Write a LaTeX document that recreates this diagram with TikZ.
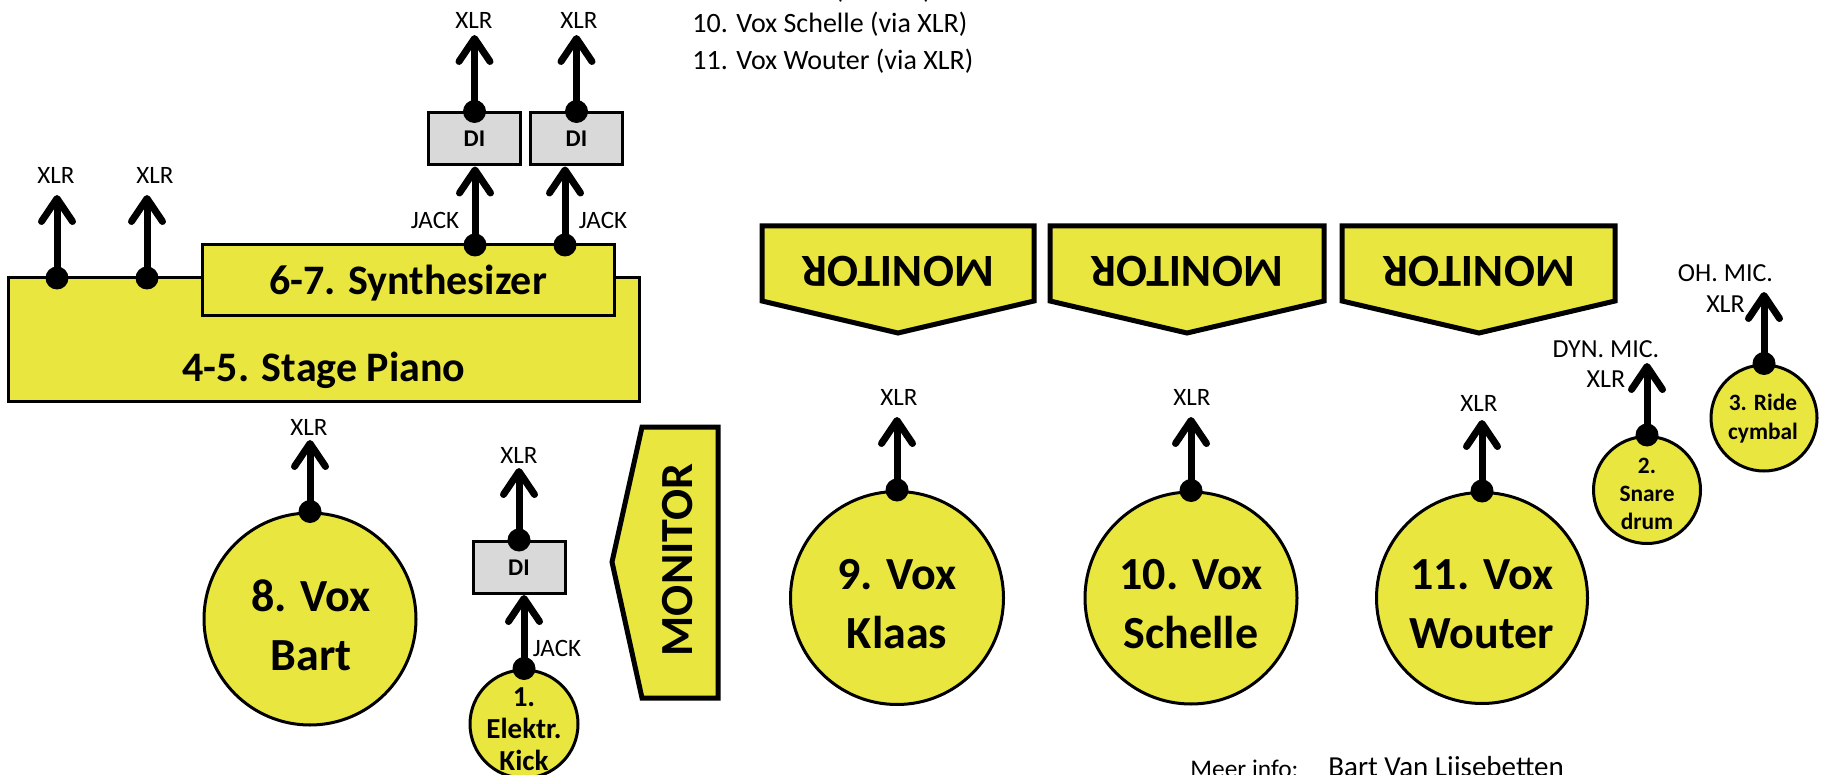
\documentclass[tikz,border=0pt]{standalone}
\usepackage{fontspec}
\setmainfont{Carlito}
\usetikzlibrary{arrows.meta,calc}
\definecolor{yel}{RGB}{234,230,64}
\definecolor{digray}{RGB}{217,217,217}
\newcommand{\myfs}[2]{\fontsize{#1}{#2}\selectfont}
\begin{document}
\begin{tikzpicture}[x=0.5pt,y=-0.5pt,
  box/.style={draw=black,line width=1.5pt,fill=yel,inner sep=0pt},
  dibox/.style={draw=black,line width=1.5pt,fill=digray,inner sep=0pt,minimum width=46pt,minimum height=26pt,font=\myfs{12pt}{14pt}\bfseries},
  inst/.style={circle,draw=black,line width=1.5pt,fill=yel,inner sep=0pt},
  bigtxt/.style={font=\myfs{23pt}{29.5pt}\bfseries,align=center,inner sep=0pt},
  midtxt/.style={font=\myfs{14.5pt}{16pt}\bfseries,align=center,inner sep=0pt},
  smalltxt/.style={font=\myfs{11.7pt}{14pt}\bfseries,align=center,inner sep=0pt},
  mon/.style={draw=black,line width=2.5pt,fill=yel,line join=miter},
  montext/.style={font=\myfs{23pt}{27pt}\bfseries,inner sep=0pt},
  sig/.style={line width=3.5pt,-{Straight Barb[length=11.5pt,width=15.5pt,round]}},
  plug/.style={fill=black},
  lbl/.style={font=\myfs{12.5pt}{15.25pt},inner sep=0pt,align=center},
  legend/.style={font=\myfs{14pt}{18.5pt},inner sep=0pt,anchor=base west},
]
\useasboundingbox (0,0) rectangle (1825,775);

% ---------- keyboards ----------
\node[box,minimum width=315.5pt,minimum height=61.5pt] (piano) at (323.5,339.5) {};
\node[font=\myfs{21pt}{25pt}\bfseries,inner sep=0pt] (pianotxt) at (324,370) {4-5. Stage Piano};
\node[box,minimum width=206pt,minimum height=35pt] (synth) at (408,280) {};
\node[font=\myfs{21pt}{25pt}\bfseries,inner sep=0pt] (synthtxt) at (408,283) {6-7. Synthesizer};

\coordinate (pd1) at (57,278);
\coordinate (pd2) at (147,278);
\coordinate (pt1) at (57,195);
\coordinate (pt2) at (147,195);
\node[lbl] (px1) at (56,175) {XLR};
\node[lbl] (px2) at (155,175) {XLR};

\coordinate (sd1) at (475,245);
\coordinate (sd2) at (565,245);
\node[dibox] (di1) at (474.5,139) {DI};
\node[dibox] (di2) at (576.5,139) {DI};
\coordinate (dt1) at (474.5,35);
\coordinate (dt2) at (576.5,35);
\node[lbl] (dx1) at (474,20) {XLR};
\node[lbl] (dx2) at (579,20) {XLR};
\node[lbl] (jack1) at (435,220) {JACK};
\node[lbl] (jack2) at (603,220) {JACK};

% ---------- monitors ----------
\draw[mon] (762,226) -- (1034,226) -- (1034,301) -- (898,333) -- (762,301) -- cycle;
\node[montext,rotate=180] (mon1) at (898,271) {MONITOR};
\draw[mon] (1050,226) -- (1324,226) -- (1324,301) -- (1187,333) -- (1050,301) -- cycle;
\node[montext,rotate=180] (mon2) at (1187,271) {MONITOR};
\draw[mon] (1342,226) -- (1615,226) -- (1615,301) -- (1479,333) -- (1342,301) -- cycle;
\node[montext,rotate=180] (mon3) at (1479,271) {MONITOR};
\draw[mon] (642,427) -- (718,427) -- (718,698) -- (642,698) -- (612,562) -- cycle;
\node[montext,rotate=90] (mon4) at (678,560) {MONITOR};

% ---------- instruments ----------
\node[inst,minimum size=106pt] (v8) at (310,619) {};
\node[bigtxt] (v8txt) at (311,625) {8. Vox\\Bart};
\node[inst,minimum size=106.5pt] (v9) at (897,598) {};
\node[bigtxt] (v9txt) at (897,604) {9. Vox\\Klaas};
\node[inst,minimum size=106pt] (v10) at (1191,598) {};
\node[bigtxt] (v10txt) at (1191,604) {10. Vox\\Schelle};
\node[inst,minimum size=105.5pt] (v11) at (1482,598) {};
\node[bigtxt] (v11txt) at (1482,604) {11. Vox\\Wouter};
\node[inst,minimum size=54pt] (kick) at (524,724) {};
\node[midtxt] (kicktxt) at (524,729) {1.\\Elektr.\\Kick};
\node[inst,minimum size=53.5pt] (snare) at (1647,490) {};
\node[smalltxt] (snaretxt) at (1647,494) {2.\\Snare\\drum};
\node[inst,minimum size=53pt] (ride) at (1764,418) {};
\node[smalltxt,font=\myfs{11.7pt}{14.5pt}\bfseries] (ridetxt) at (1763,419) {3. Ride\\cymbal};
\node[dibox] (di3) at (519,567.5) {DI};

\coordinate (v8t) at (310,440);
\coordinate (v9t) at (897,417);
\coordinate (v10t) at (1191,417);
\coordinate (v11t) at (1482,420);
\coordinate (di3t) at (519,468);
\coordinate (snt) at (1647,363);
\coordinate (rdt) at (1764,292);

\node[lbl] (x8) at (309,427) {XLR};
\node[lbl] (x9) at (899,397) {XLR};
\node[lbl] (x10) at (1192,397) {XLR};
\node[lbl] (x11) at (1479,403) {XLR};
\node[lbl] (x3) at (519,455) {XLR};
\node[lbl] (jack3) at (557,648) {JACK};
\node[lbl,font=\myfs{13pt}{15.25pt}] (snlbl) at (1606,364) {DYN. MIC.\\XLR};
\node[lbl,font=\myfs{13pt}{15.25pt}] (rdlbl) at (1725.5,288.5) {OH. MIC.\\XLR};

% ---------- signal arrows ----------
\draw[sig] (pd1) -- (pt1);
\draw[sig] (pd2) -- (pt2);
\draw[sig] (sd1) -- (sd1 |- di1.south);
\draw[sig] (sd2) -- (sd2 |- di2.south);
\draw[sig] (di1.north) -- (dt1);
\draw[sig] (di2.north) -- (dt2);
\draw[sig] (v8.north) -- (v8t);
\draw[sig] (v9.north) -- (v9t);
\draw[sig] (v10.north) -- (v10t);
\draw[sig] (v11.north) -- (v11t);
\draw[sig] (kick.north) -- (kick.north |- di3.south);
\draw[sig] (di3.north) -- (di3t);
\draw[sig] (snare.north) -- (snt);
\draw[sig] (ride.north) -- (rdt);

% ---------- plugs ----------
\foreach \p in {pd1,pd2,sd1,sd2,di1.north,di2.north,v8.north,v9.north,v10.north,v11.north,kick.north,di3.north,snare.north,ride.north}
  \fill[plug] (\p) circle (5.75pt);

% ---------- legend ----------
\node[legend] (leg9) at (692,-1) {9. Vox Klaas (via XLR)};
\node[legend] (leg10) at (692,33) {10. Vox Schelle (via XLR)};
\node[legend] (leg11) at (692,70) {11. Vox Wouter (via XLR)};
\node[inner sep=0pt,anchor=base west,font=\myfs{12.7pt}{15pt}] (meer) at (1190,777) {Meer info:};
\node[inner sep=0pt,anchor=base west,font=\myfs{14.5pt}{17pt}] (bart) at (1328,776) {Bart Van Lijsebetten};
\end{tikzpicture}
\end{document}
